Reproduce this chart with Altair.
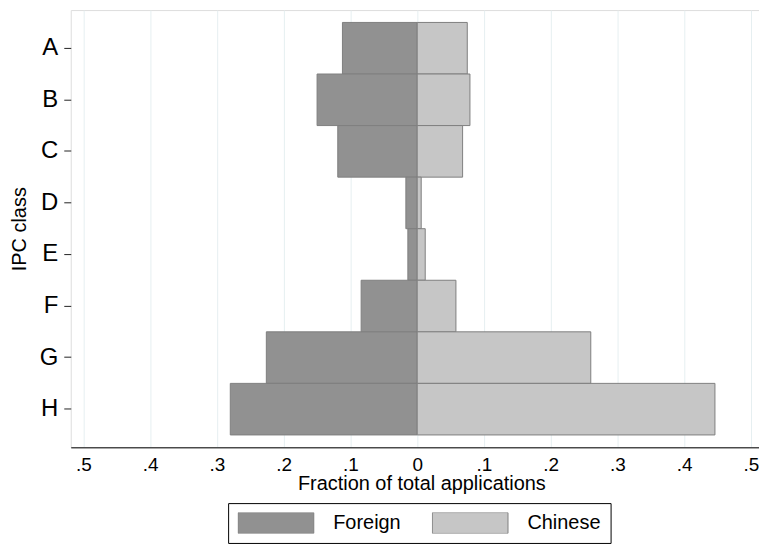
import altair as alt
import pandas as pd

categories = ["A", "B", "C", "D", "E", "F", "G", "H"]
foreign = [0.112, 0.150, 0.119, 0.017, 0.014, 0.084, 0.226, 0.280]
chinese = [0.075, 0.079, 0.068, 0.006, 0.012, 0.058, 0.260, 0.446]
groups = ["Foreign", "Chinese"]
colors = ["#919191", "#c6c6c6"]
tick_values = [-0.5, -0.4, -0.3, -0.2, -0.1, 0, 0.1, 0.2, 0.3, 0.4, 0.5]

rows = []
for c, f, ch in zip(categories, foreign, chinese):
    rows.append({"cat": c, "group": "Foreign", "value": -f})
    rows.append({"cat": c, "group": "Chinese", "value": ch})
df = pd.DataFrame(rows)

FONT = "Liberation Sans"

chart = alt.Chart(df).mark_bar(stroke="#7f7f7f", strokeWidth=1, opacity=1).encode(
    x=alt.X(
        "value:Q",
        stack=None,
        scale=alt.Scale(domain=[-0.519, 0.512], nice=False, zero=False),
        axis=alt.Axis(
            values=tick_values,
            labelExpr="datum.value == 0 ? '0' : replace(format(abs(datum.value), '.1f'), '0.', '.')",
            title="Fraction of total applications",
            titleFontSize=20,
            titleFont=FONT,
            titleFontWeight="normal",
            titleColor="black",
            titleX=352,
            titleY=42,
            titleBaseline="alphabetic",
            titleAlign="center",
            labelFontSize=19,
            labelFont=FONT,
            labelColor="black",
            labelPadding=8,
            ticks=False,
            tickSize=0,
            domain=True,
            domainColor="black",
            domainWidth=1,
            grid=True,
            gridColor="#e6eff1",
            gridWidth=1,
            labelFlush=False,
            labelOverlap=False,
        ),
    ),
    y=alt.Y(
        "cat:N",
        sort=categories,
        scale=alt.Scale(paddingInner=0, paddingOuter=0.24),
        axis=alt.Axis(
            title="IPC class",
            titleFontSize=20,
            titleFont=FONT,
            titleFontWeight="normal",
            titleColor="black",
            titleX=-45,
            titleY=219.5,
            titleAngle=270,
            titleBaseline="alphabetic",
            titleAlign="center",
            labelFontSize=24,
            labelFont=FONT,
            labelColor="black",
            labelPadding=6,
            ticks=True,
            tickSize=7,
            tickColor="#222222",
            tickWidth=1,
            domain=False,
            grid=False,
        ),
    ),
    color=alt.Color(
        "group:N",
        scale=alt.Scale(domain=groups, range=colors),
        legend=alt.Legend(
            title=None,
            orient="none",
            legendX=158,
            legendY=495,
            direction="horizontal",
            symbolType="M-1,-0.276L1,-0.276L1,0.276L-1,0.276Z",
            symbolSize=5776,
            symbolStrokeColor="#7f7f7f",
            symbolStrokeWidth=1,
            symbolOpacity=1,
            clipHeight=21,
            labelFontSize=20,
            labelFont=FONT,
            labelColor="black",
            labelOffset=19,
            labelExpr="datum.label == 'Chinese' ? 'Chinese\u2007\u2007' : datum.label",
            columnPadding=31,
            padding=9.5,
            strokeColor="black",
            fillColor="white",
        ),
    ),
).properties(
    width=691,
    height=439,
    autosize=alt.AutoSizeParams(type="none"),
    padding={"left": 63, "top": 1, "right": 0, "bottom": 99},
).configure_view(stroke=None).configure(background="white")

chart.save("out.html", embed_options={"renderer": "svg", "actions": False})
